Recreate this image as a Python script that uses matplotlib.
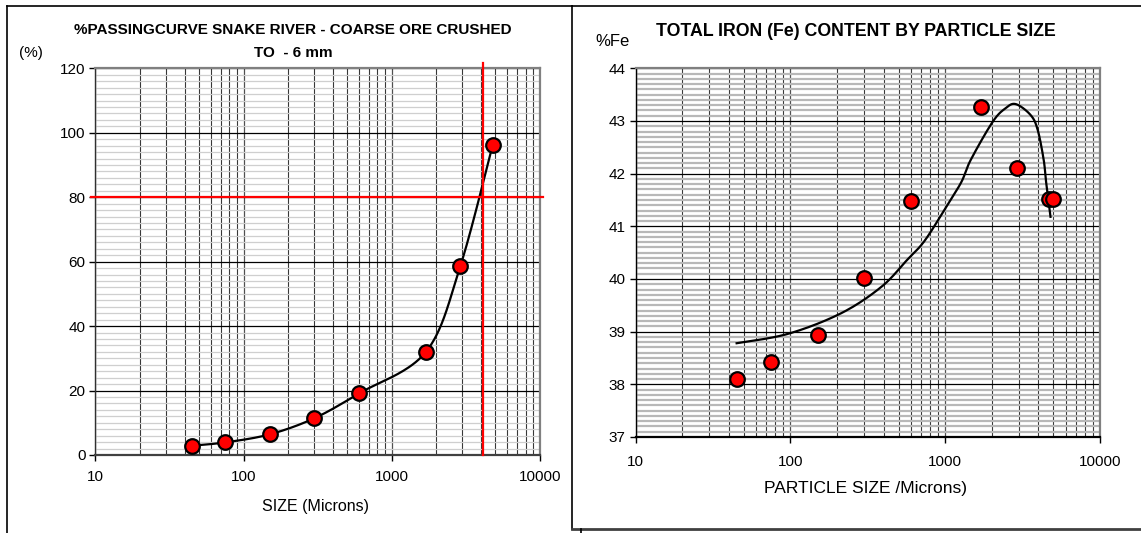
import numpy as np
import matplotlib
matplotlib.use("Agg")
import matplotlib.pyplot as plt
from matplotlib.lines import Line2D
from matplotlib.ticker import LogLocator, MultipleLocator, FixedLocator, NullFormatter

plt.rcParams['font.family'] = ['Liberation Sans', 'DejaVu Sans']

# ---------------- data ----------------
psd_size = [45, 75, 150, 300, 600, 1700, 2900, 4800]          # microns
psd_pass = [2.9, 3.9, 6.4, 11.4, 19.1, 32.0, 58.6, 96.3]       # % passing
p80_size = 4100
p80_level = 80

fe_size = [45, 75, 150, 300, 600, 1700, 2890, 4680, 4940]      # microns
fe_pct = [38.10, 38.42, 38.94, 40.01, 41.49, 43.26, 42.10, 41.52, 41.52]

# trend line
trend_size = [45, 97, 213, 387, 567, 743, 1055, 1277, 1462, 2023, 2450, 2860,
              3570, 3960, 4330, 4470, 4790]
trend_pct = [38.78, 38.96, 39.35, 39.85, 40.36, 40.74, 41.45, 41.85, 42.26, 42.98,
             43.24, 43.32, 43.11, 42.83, 42.26, 41.88, 41.18]

x_ticks = [10, 100, 1000, 10000]
x_ticklabels = ['10', '100', '1000', '10000']
psd_yticks = [0, 20, 40, 60, 80, 100, 120]
fe_yticks = [37, 38, 39, 40, 41, 42, 43, 44]

W, H = 1141, 533
fig = plt.figure(figsize=(W / 100, H / 100), dpi=100)


def fx(px):
    return px / W


def fy(py):
    return 1 - py / H


def smooth_curve(xs, ys, n=40):
    """Catmull-Rom style smoothing (like a spreadsheet's smoothed line) in log-x space."""
    P = np.column_stack([np.log10(xs), ys]).astype(float)
    out = []
    for i in range(len(P) - 1):
        p0 = P[i - 1] if i > 0 else P[i]
        p3 = P[i + 2] if i + 2 < len(P) else P[i + 1]
        c1 = P[i] + (P[i + 1] - p0) / 6.0
        c2 = P[i + 1] - (p3 - P[i]) / 6.0
        t = np.linspace(0, 1, n)[:, None]
        seg = ((1 - t) ** 3) * P[i] + 3 * ((1 - t) ** 2) * t * c1 + 3 * (1 - t) * t ** 2 * c2 + t ** 3 * P[i + 1]
        out.append(seg)
    out = np.vstack(out)
    return 10 ** out[:, 0], out[:, 1]


def style_axes(ax, ymin, ymax, yticks, yminor, hgrid_color, hgrid_lw, bottom_color, left_color):
    ax.set_xscale('log')
    ax.set_xlim(10, 10000)
    ax.set_ylim(ymin, ymax)
    ax.xaxis.set_major_locator(FixedLocator(x_ticks))
    ax.set_xticklabels(x_ticklabels)
    ax.xaxis.set_minor_locator(LogLocator(base=10, subs=np.arange(2, 10)))
    ax.xaxis.set_minor_formatter(NullFormatter())
    ax.yaxis.set_major_locator(FixedLocator(yticks))
    ax.yaxis.set_minor_locator(MultipleLocator(yminor))
    ax.set_axisbelow(True)
    ax.grid(which='minor', axis='y', color=hgrid_color, lw=hgrid_lw)
    ax.grid(which='major', axis='y', color='black', lw=0.9)
    ax.grid(which='minor', axis='x', color='#383838', lw=0.8)
    ax.grid(which='major', axis='x', color='#505050', lw=0.9)
    ax.tick_params(which='minor', length=0)
    ax.tick_params(which='major', direction='out', length=4, width=1, color='black', labelsize=11)
    ax.tick_params(axis='y', pad=3)
    ax.spines['top'].set_color('#808080')
    ax.spines['right'].set_color('#808080')
    ax.spines['top'].set_linewidth(1.6)
    ax.spines['right'].set_linewidth(1.6)
    ax.spines['bottom'].set_color(bottom_color)
    ax.spines['bottom'].set_linewidth(1.6)
    ax.spines['left'].set_color(left_color)
    ax.spines['left'].set_linewidth(1.0)


# ---------------- left chart ----------------
ax1 = fig.add_axes([fx(95.3), fy(455), fx(540) - fx(95.3), fy(68.3) - fy(455)])
style_axes(ax1, 0, 120, psd_yticks, 2, '#cfcfcf', 0.9, '#404040', '#303030')
ax1.tick_params(axis='x', pad=7)

cx, cy = smooth_curve(psd_size, psd_pass)
ax1.plot(cx, cy, color='black', lw=1.6, zorder=3)
ax1.plot(psd_size, psd_pass, ls='none', marker='o', ms=10.5, mfc='#ff0000',
         mec='black', mew=1.6, zorder=4)

# P80 guide lines (extend slightly beyond the plot area)
ax1.plot([-0.01, 1.007], [p80_level, p80_level], color='#ff0000', lw=1.6,
         transform=ax1.get_yaxis_transform(), clip_on=False, zorder=5)
ax1.plot([p80_size, p80_size], [0, 121.7], color='#ff0000', lw=1.6,
         clip_on=False, zorder=5)

fig.text(fx(293), fy(29.5), '%PASSINGCURVE SNAKE RIVER - COARSE ORE CRUSHED',
         ha='center', va='center', fontsize=11, fontweight='bold')
fig.text(fx(293), fy(53), 'TO  - 6 mm', ha='center', va='center', fontsize=11, fontweight='bold')
fig.text(fx(31), fy(53), '(%)', ha='center', va='center', fontsize=11)
fig.text(fx(316), fy(507), 'SIZE (Microns)', ha='center', va='center', fontsize=11.5)

# ---------------- right chart ----------------
ax2 = fig.add_axes([fx(635.5), fy(437), fx(1100) - fx(635.5), fy(68.3) - fy(437)])
style_axes(ax2, 37, 44, fe_yticks, 0.1, '#b8b8b8', 1.6, 'black', 'black')
ax2.tick_params(axis='x', pad=9)

tx, ty = smooth_curve(trend_size, trend_pct, n=20)
ax2.plot(tx, ty, color='black', lw=1.6, zorder=3)
ax2.plot(fe_size, fe_pct, ls='none', marker='o', ms=10.5, mfc='#ff0000',
         mec='black', mew=1.6, zorder=4)

fig.text(fx(856), fy(32), 'TOTAL IRON (Fe) CONTENT BY PARTICLE SIZE',
         ha='center', va='center', fontsize=12.8, fontweight='bold')
fig.text(fx(612), fy(42), '%Fe', ha='center', va='center', fontsize=12)
fig.text(fx(866), fy(488), 'PARTICLE SIZE /Microns)', ha='center', va='center', fontsize=12.5)

# ---------------- frames ----------------
def fline(x0, y0, x1, y1, color='black', lw=1.2):
    fig.add_artist(Line2D([fx(x0), fx(x1)], [fy(y0), fy(y1)], color=color, lw=lw,
                          transform=fig.transFigure))

fline(7, 6, 7, 533)
fline(7, 6, 572, 6)
fline(572, 6, 572, 529)
fline(572, 6, 1141, 6)
fline(572, 529, 1141, 529, color='#404040', lw=2.0)
fline(580.5, 529, 580.5, 533)

fig.savefig('out.png', dpi=100)
